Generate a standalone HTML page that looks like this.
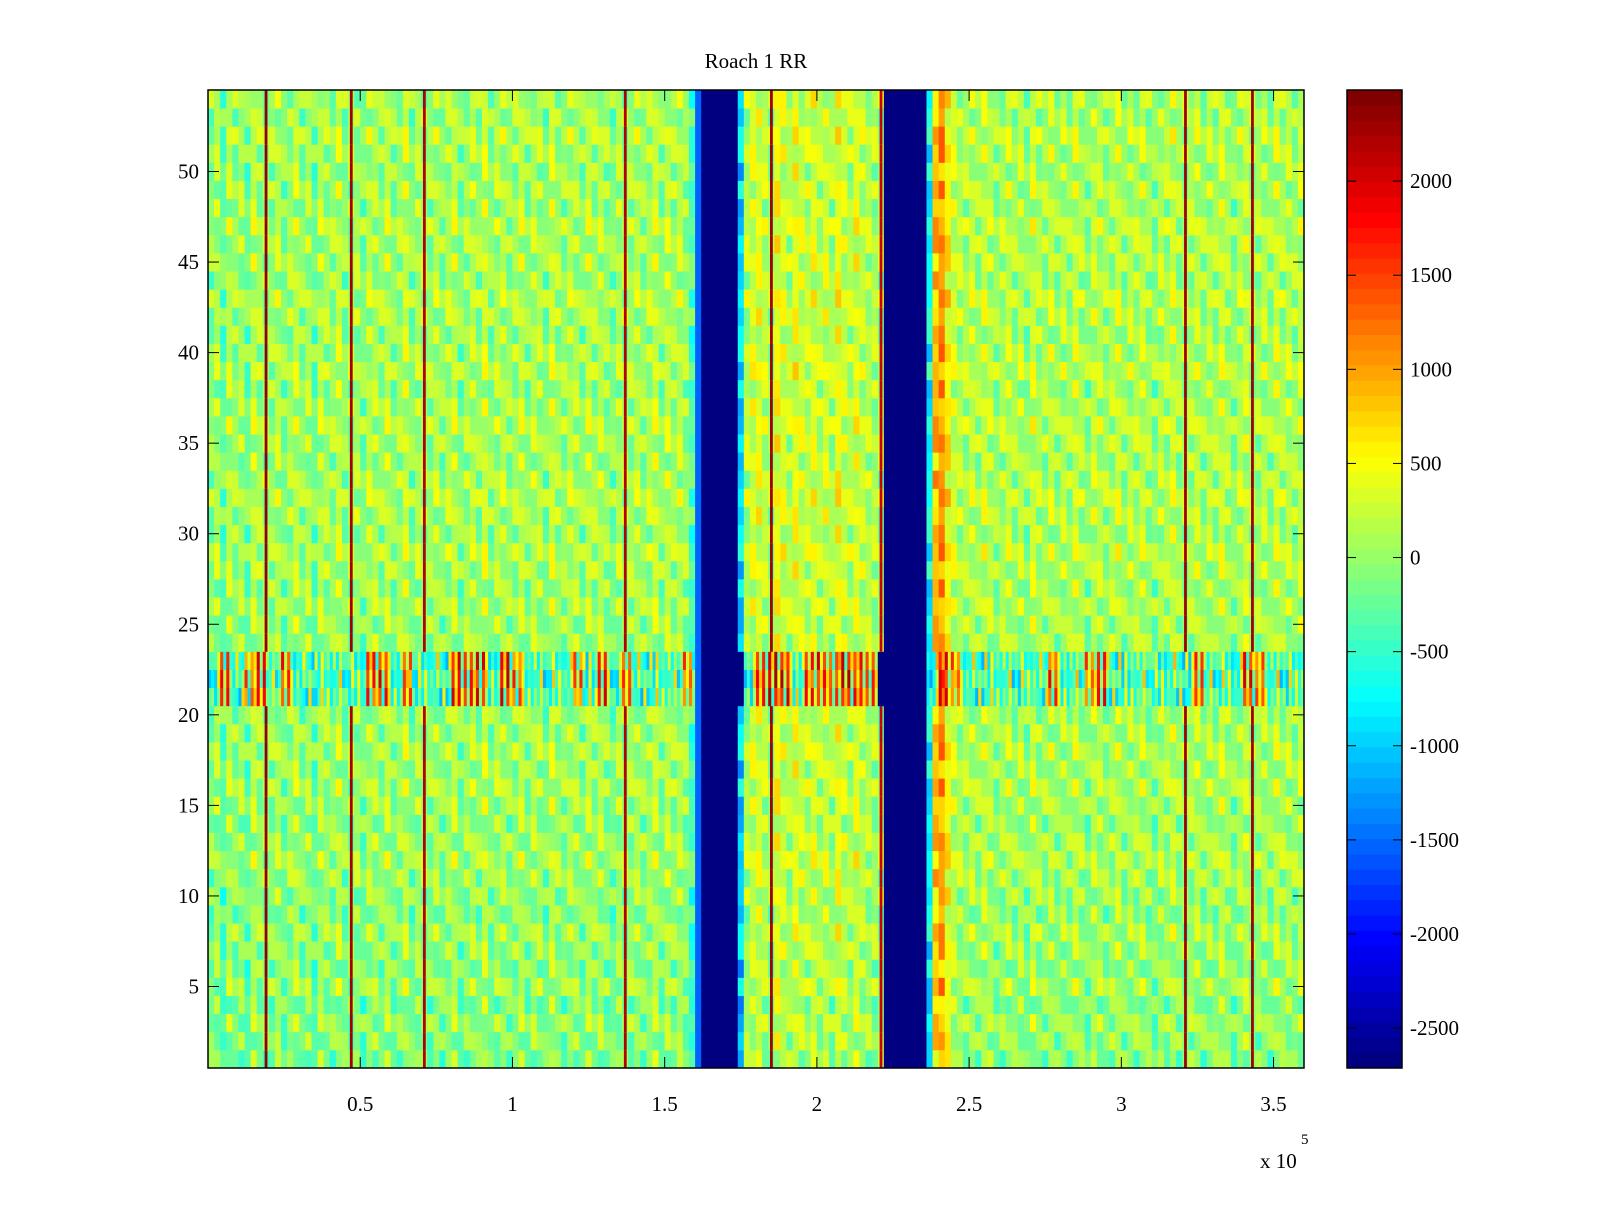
<!DOCTYPE html>
<html><head><meta charset="utf-8"><style>
body{margin:0;background:#fff;}
svg text{font-family:"Liberation Serif",serif;font-size:21px;fill:#000;}
</style></head><body>
<svg id="fig" width="1600" height="1200" viewBox="0 0 1600 1200" xmlns="http://www.w3.org/2000/svg">
<rect width="1600" height="1200" fill="#fff"/>
<text x="756" y="68" text-anchor="middle">Roach 1 RR</text>
<g id="cells"></g>
<g id="cbar"></g>
<g id="axes"></g>
<text x="1260" y="1168">x 10</text>
<text x="1301" y="1144" font-size="15" style="font-size:15px">5</text>
</svg>
<script>
// column base values (one column per 2000 units, 0..3.6e5)
const colBase=[-100,50,-300,100,-50,0,-250,150,0,2400,
-50,100,-150,0,150,-100,50,-250,100,0,
-50,150,-100,2300,0,-150,100,50,-50,150,
-100,0,200,-150,50,2200,-50,100,-100,50,
150,-150,0,100,-50,200,-100,50,100,-50,
0,150,-100,100,50,-150,200,0,-50,100,
50,-100,150,0,100,-50,-150,50,2200,0,
100,-50,50,200,-100,150,0,100,-50,-400,
-1500,-2750,-2750,-2750,-2750,-2750,-2750,-1000,100,250,
300,150,2300,400,250,100,350,200,150,300,
100,250,50,400,200,100,300,150,100,50,
2000,-2750,-2750,-2750,-2750,-2750,-2750,-2750,-800,800,
1000,500,200,100,50,150,0,200,100,-50,
50,150,0,100,-100,200,50,0,150,-50,
100,0,200,50,-100,150,100,0,50,200,
-50,100,50,150,0,-100,100,50,200,0,
2300,50,150,-50,100,0,200,50,-100,100,
150,2300,0,100,-50,200,50,100,0,150];
// rows 1..54 offsets
const rowOff=[-150,-100,-50,-150,0,-100,-50,0,-100,-50,0,50,0,-50,0,50,0,50,0,0,0,0,0,0,0,50,0,50,100,0,50,100,50,0,50,100,50,0,100,50,0,50,100,0,50,50,100,0,50,0,50,100,0,50];
// band rows 21-23: value per 2 columns
const bandVals=[-800,2000,-900,1500,2200,-700,1800,-900,-800,-600,
-900,-700,-800,1800,2000,-900,1500,-800,-700,-900,
2200,1800,2000,-900,2100,1600,-800,-900,-700,-600,
1500,-900,2000,-800,1700,-900,-800,-700,-800,1500,
-2750,-2750,-2750,-2750,-900,2000,2300,2200,-900,1800,
2000,1600,2200,2000,1700,-2750,-2750,-2750,-2750,-900,
2000,1500,-800,-900,-700,-800,-900,-600,-800,1800,
-900,-700,1500,2000,-800,-900,-700,-600,-900,-800,
-900,1800,-800,-700,-900,2000,1600,-800,-900,-700];
const tex=[-350,100,-200,300,0,-300,250,-100,350,-50,150];
const xTicks=[0.5,1,1.5,2,2.5,3,3.5];
const yTicks=[5,10,15,20,25,30,35,40,45,50];
const cTicks=[2000,1500,1000,500,0,-500,-1000,-1500,-2000,-2500];
const L=208,R=1304,T=90,B=1068,XMAX=3.6,YMIN=0.5,YMAX=54.5;
const CL=1347,CR=1402,VMIN=-2712,VMAX=2484;
const xs=v=>L+(v/XMAX)*(R-L);
const ys=v=>B-(v-YMIN)/(YMAX-YMIN)*(B-T);
const cs=v=>B-(v-VMIN)/(VMAX-VMIN)*(B-T);
function jet(t){t=Math.max(0,Math.min(1,t));t=Math.min(63,Math.floor(t*64))/63;
 const f=x=>Math.max(0,Math.min(1,x));
 const r=f(1.5-Math.abs(4*t-3)),g=f(1.5-Math.abs(4*t-2)),b=f(1.5-Math.abs(4*t-1));
 return `rgb(${Math.round(r*255)},${Math.round(g*255)},${Math.round(b*255)})`;}
const NS="http://www.w3.org/2000/svg";
const cells=document.getElementById('cells');
const nc=colBase.length,cw=XMAX/nc;
function addCell(x0,x1,y0,y1,v){
 const e=document.createElementNS(NS,'rect');
 e.setAttribute('x',x0.toFixed(2));e.setAttribute('y',y0.toFixed(2));
 e.setAttribute('width',(x1-x0+0.4).toFixed(2));e.setAttribute('height',(y1-y0+0.4).toFixed(2));
 e.setAttribute('fill',jet((v-VMIN)/(VMAX-VMIN)));
 
 
 cells.appendChild(e);}
for(let c=0;c<nc;c++){for(let r=1;r<=54;r++){
 const x0=xs(c*cw),x1=xs((c+1)*cw),y0=ys(r+0.5),y1=ys(r-0.5);
 const bg=colBase[c]>1800?0:colBase[c];
 if(colBase[c]<-1000){addCell(x0,x1,y0,y1,colBase[c]);continue;}
 if(r>=21&&r<=23){const b=bandVals[Math.floor(c/2)];
   if(b<-1000){addCell(x0,x1,y0,y1,b);continue;}
   const xm=(x0+x1)/2;
   addCell(x0,xm,y0,y1,b*0.85+tex[(c*5+r*3)%11]);
   addCell(xm,x1,y0,y1,bg+tex[(c*3+r*7)%11]*2);
   continue;}
 addCell(x0,x1,y0,y1,bg+rowOff[r-1]+tex[(c*7+r*3)%11]);
 if(colBase[c]>1800){const xm=(x0+x1)/2;addCell(xm-1.2,xm+1.2,y0,y1,colBase[c]);}
}}
const cb=document.getElementById('cbar');
for(let i=0;i<64;i++){const h=(B-T)/64;const e=document.createElementNS(NS,'rect');
 e.setAttribute('x',CL);e.setAttribute('y',(B-(i+1)*h).toFixed(2));e.setAttribute('width',CR-CL);e.setAttribute('height',(h+0.4).toFixed(2));
 e.setAttribute('fill',jet(i/63));
 
 
 cb.appendChild(e);}
let h='';
h+=`<rect x="${L}" y="${T}" width="${R-L}" height="${B-T}" fill="none" stroke="#000" stroke-width="1.5"/>`;
h+=`<rect x="${CL}" y="${T}" width="${CR-CL}" height="${B-T}" fill="none" stroke="#000" stroke-width="1.5"/>`;
xTicks.forEach(v=>{const x=xs(v);h+=`<line x1="${x}" x2="${x}" y1="${B}" y2="${B-11}" stroke="#000"/><line x1="${x}" x2="${x}" y1="${T}" y2="${T+11}" stroke="#000"/><text x="${x}" y="1111" text-anchor="middle">${v}</text>`;});
yTicks.forEach(v=>{const y=ys(v);h+=`<line x1="${L}" x2="${L+11}" y1="${y}" y2="${y}" stroke="#000"/><line x1="${R}" x2="${R-11}" y1="${y}" y2="${y}" stroke="#000"/><text x="199" y="${y+7}" text-anchor="end">${v}</text>`;});
cTicks.forEach(v=>{const y=cs(v);h+=`<line x1="${CL}" x2="${CL+9}" y1="${y}" y2="${y}" stroke="#000"/><line x1="${CR}" x2="${CR-9}" y1="${y}" y2="${y}" stroke="#000"/><text x="1410" y="${y+7}">${v}</text>`;});
document.getElementById('axes').innerHTML=h;
</script>
</body></html>
